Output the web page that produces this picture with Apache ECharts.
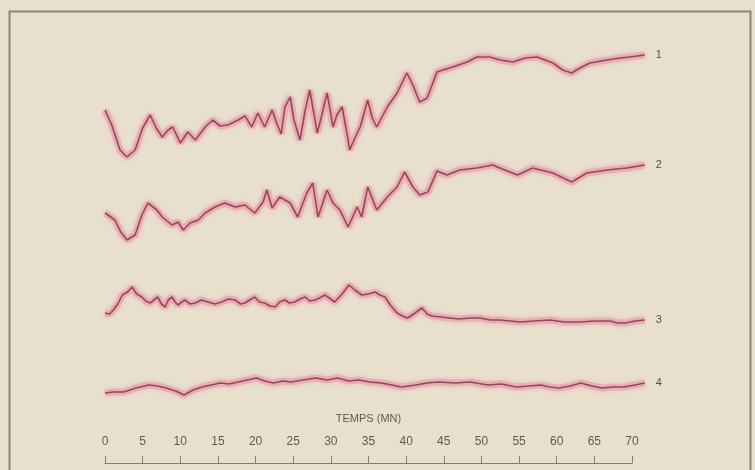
<!DOCTYPE html>
<html>
<head>
<meta charset="utf-8">
<script src="https://cdn.jsdelivr.net/npm/echarts@6/dist/echarts.min.js"></script>
<style>
    html, body {margin: 0; padding: 0; background: #e8e0cd;}
    #trace-chart {width: 755px; height: 470px;}
</style>
</head>
<body>
<div id="trace-chart"></div>
<script>
// temps (mn) et amplitude de chaque trace
var temps1 = [0, 0.9, 2.0, 2.9, 4.0, 5.0, 6.0, 6.8, 7.6, 8.4, 9.0, 10.0, 11.0, 12.0, 13.3, 14.3, 15.3, 16.3, 17.7, 18.6,
    19.5, 20.3, 21.2, 22.2, 22.8, 23.4, 23.9, 24.6, 25.1, 25.9, 26.6, 27.2, 28.2, 28.8, 29.5, 30.3, 30.8, 31.5, 32.3, 32.5, 33.2,
    33.9, 34.9, 35.5, 36.1, 36.8, 37.5, 38.8, 40.1, 40.9, 41.8, 42.8, 44.1, 44.9, 46.2, 48.1, 49.4, 51.1, 52.5, 54.2, 55.8,
    57.4, 59.5, 60.8, 62.0, 63.1, 64.4, 66.7, 68.4, 69.7, 71.7];
var trace1 = [155, 147.5, 135, 131.5, 135, 146, 152.5, 146, 141.5, 145, 146.5, 138.5, 144, 140, 146.5, 150, 147, 147.5, 150, 152,
    146.5, 153.5, 146.5, 155, 148.5, 143, 156.5, 161.5, 150, 140, 155, 165, 143.5, 152.5, 163.5, 146.5, 152.5, 156.5, 140, 135, 141,
    146.5, 160, 151, 146.5, 151.5, 156.5, 163.5, 173.5, 167.5, 159, 161, 174, 175, 176.5, 179, 181.5, 181.5, 180, 179, 181,
    181.5, 178.5, 175, 173.5, 176, 178.5, 180, 181, 181.5, 182.5];

var temps2 = [0, 0.4, 1.3, 2.1, 2.9, 4.0, 4.9, 5.7, 6.9, 7.6, 8.9, 9.7, 10.4, 11.3, 12.4, 13.3, 14.6, 15.9, 17.3, 18.6,
    19.9, 21.0, 21.5, 22.2, 23.2, 24.6, 25.6, 26.8, 27.6, 28.3, 29.5, 30.3, 31.2, 32.3, 33.5, 34.1, 34.9, 36.1, 37.5, 38.8,
    39.8, 40.9, 41.8, 42.9, 44.1, 45.4, 47.1, 49.4, 51.5, 53.1, 54.8, 56.8, 59.5, 62.0, 64.0, 66.7, 69.3, 71.7];
var trace2 = [103.5, 102.5, 100, 94, 90, 92.5, 102.5, 108.5, 105, 101.5, 97.5, 99, 95, 98.5, 100, 103.5, 106.5, 108.5, 106.5, 107.5,
    103.5, 109, 115, 106, 111.5, 108.5, 101.5, 113.5, 118.5, 101.5, 115, 108.5, 105, 96.5, 106.5, 101.5, 116.5, 105, 111.5, 116.5,
    124, 116.5, 112.5, 114, 124.5, 122.5, 125, 126, 127.5, 125, 122.5, 126, 123.5, 119, 123.5, 125, 126, 127.5];

var temps3 = [0, 0.6, 1.1, 1.7, 2.3, 3.0, 3.6, 4.2, 4.9, 5.4, 6.0, 6.5, 7.0, 7.5, 8.0, 8.4, 8.9, 9.3, 9.7, 10.2,
    10.6, 11.3, 12.0, 12.8, 13.7, 14.6, 15.5, 16.4, 17.3, 18.0, 18.6, 19.2, 19.9, 20.5, 21.2, 21.9, 22.6, 23.2, 23.9, 24.5,
    25.2, 25.9, 26.6, 27.2, 27.9, 28.5, 29.2, 29.8, 30.5, 31.5, 32.4, 33.2, 34.1, 35.0, 35.9, 36.5, 37.2, 38.0, 38.8, 39.5,
    40.2, 41.2, 42.1, 42.8, 43.4, 44.6, 45.8, 47.0, 48.5, 49.8, 51.2, 52.5, 53.8, 55.1, 57.0, 59.1, 61.0, 63.1, 65.0, 67.1,
    68.1, 69.1, 70.4, 71.7];
var trace3 = [53.5, 53, 55, 58, 62.5, 64, 66.5, 63, 61.5, 59.5, 58.5, 60, 61.5, 58, 56.5, 60, 61.5, 59, 57.5, 59,
    60, 58, 58.5, 60, 59, 58, 59, 60.5, 60, 58, 58.5, 60, 61.5, 59, 58.5, 57, 56.5, 59, 60, 58.5,
    59, 60.5, 61.5, 59.5, 60, 61, 62.5, 61, 59, 63, 67.5, 65, 62.5, 63, 64, 62.5, 61.5, 57, 53.5, 52,
    51, 53.5, 56, 53, 52, 51.5, 51, 50.5, 51, 51, 50, 50, 49.5, 49, 49.5, 50, 49, 49, 49.5, 49.5,
    48.5, 48.5, 49.5, 50];

var temps4 = [0, 1.1, 2.5, 4.1, 5.8, 7.0, 8.1, 9.4, 10.5, 11.7, 12.9, 14.1, 15.3, 16.5, 17.7, 18.9, 20.1, 21.2, 22.4, 23.6,
    24.7, 26.3, 28.0, 29.5, 30.9, 32.4, 33.7, 35.2, 36.7, 38.1, 39.4, 41.3, 42.8, 44.2, 46.5, 48.5, 50.9, 52.7, 54.6, 56.3,
    57.9, 59.1, 60.3, 61.8, 63.2, 64.7, 66.0, 67.5, 68.9, 70.4, 71.7];
var trace4 = [13.5, 14, 14, 16, 17.5, 17, 16, 14.5, 12.5, 15, 16.5, 17.5, 18.5, 18, 19, 20, 21, 19.5, 18.5, 19.5,
    19, 20, 21, 20, 21, 19.5, 20, 19, 18.5, 17.5, 16.5, 17.5, 18.5, 19, 18.5, 19, 17.5, 18, 16.5, 17,
    17.5, 16.5, 16, 17, 18.5, 17, 16, 16.5, 16.5, 17.5, 18.5];

var traceNames = ['1', '2', '3', '4'];
var tempsTicks = [0, 5, 10, 15, 20, 25, 30, 35, 40, 45, 50, 55, 60, 65, 70];

function toPairs(t, v) {
    var out = [];
    var n = Math.min(t.length, v.length);
    for (var i = 0; i < n; i++) {
        out.push([t[i], v[i]]);
    }
    return out;
}

// halo rose flou sous le trait
function haloSeries(t, v) {
    return {
        type: 'line',
        data: toPairs(t, v),
        showSymbol: false,
        silent: true,
        z: 1,
        lineStyle: {
            color: 'rgba(232, 130, 155, 0.42)',
            width: 7,
            shadowColor: 'rgba(235, 135, 160, 0.7)',
            shadowBlur: 5
        }
    };
}

function traceSeries(name, t, v) {
    return {
        name: name,
        type: 'line',
        data: toPairs(t, v),
        showSymbol: false,
        silent: true,
        z: 2,
        lineStyle: {color: '#96475b', width: 1.6},
        endLabel: {
            show: true,
            formatter: '{a}',
            color: '#55514a',
            fontSize: 11,
            fontFamily: 'Liberation Sans Narrow, Liberation Sans, sans-serif',
            distance: 11
        }
    };
}

var dom = document.getElementById('trace-chart');
var myChart = echarts.init(dom, null, {renderer: 'canvas'});
var option = {
    backgroundColor: '#e8e0cd',
    animation: false,
    graphic: [{
        type: 'rect',
        left: 7,
        top: 9,
        shape: {width: 741, height: 470},
        style: {fill: 'none', stroke: '#8c8574', lineWidth: 2}
    }],
    grid: [
        {left: 105, right: 108, top: 30, bottom: 50},
        {left: 105, right: 123, top: 462, height: 1}
    ],
    xAxis: [
        {gridIndex: 0, type: 'value', min: 0, max: 72, show: false},
        {
            gridIndex: 1, type: 'value', position: 'top', min: 0, max: 70, interval: 5,
            name: 'TEMPS (MN)', nameLocation: 'middle', nameGap: 38,
            nameTextStyle: {color: '#5f5a52', fontSize: 11, fontFamily: 'Liberation Sans Narrow, sans-serif'},
            axisLine: {show: true, lineStyle: {color: '#86806f', width: 1.2}},
            axisTick: {show: true, length: 7, lineStyle: {color: '#86806f'}},
            splitLine: {show: false},
            axisLabel: {
                margin: 14,
                color: '#5f5a52',
                fontSize: 12,
                fontFamily: 'Liberation Sans Narrow, sans-serif',
                formatter: function (val) {
                    return tempsTicks.indexOf(val) >= 0 ? String(val) : '';
                }
            }
        }
    ],
    yAxis: [
        {gridIndex: 0, type: 'value', min: 0, max: 195, show: false},
        {gridIndex: 1, type: 'value', min: 0, max: 1, show: false}
    ],
    series: [
        haloSeries(temps1, trace1),
        haloSeries(temps2, trace2),
        haloSeries(temps3, trace3),
        haloSeries(temps4, trace4),
        traceSeries(traceNames[0], temps1, trace1),
        traceSeries(traceNames[1], temps2, trace2),
        traceSeries(traceNames[2], temps3, trace3),
        traceSeries(traceNames[3], temps4, trace4)
    ]
};
if (option && typeof option === "object") {
    myChart.setOption(option, true);
}
</script>
</body>
</html>
